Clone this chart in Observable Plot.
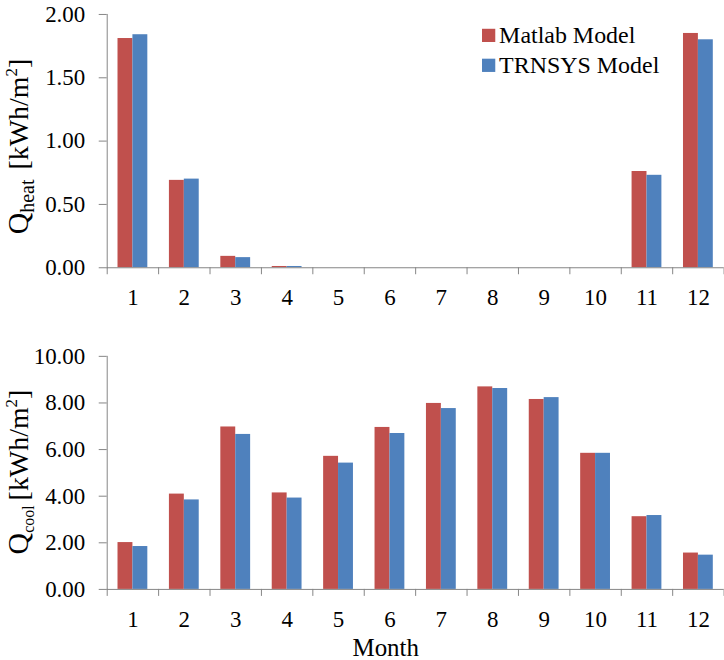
<!DOCTYPE html>
<html>
<head>
<meta charset="utf-8">
<script src="https://cdn.jsdelivr.net/npm/d3@7"></script>
<script src="https://cdn.jsdelivr.net/npm/@observablehq/plot@0.6"></script>
<style>
  html, body { margin: 0; padding: 0; background: #fff; overflow: hidden; width: 724px; height: 660px; }
  #heat, #cool { position: absolute; left: 0; }
  #heat { top: 0; }
  #cool { top: 305px; }
  svg text { font-family: "Liberation Serif", "Times New Roman", serif; }
</style>
</head>
<body>
<div id="heat"></div>
<div id="cool"></div>
<script>
// Monthly heating and cooling demand, two simulation models
const months = [1, 2, 3, 4, 5, 6, 7, 8, 9, 10, 11, 12];
const series = ["Matlab Model", "TRNSYS Model"];
const colors = ["#C0504D", "#4F81BD"];

const heatMatlab = [1.81, 0.69, 0.09, 0.01, 0, 0, 0, 0, 0, 0, 0.76, 1.85];
const heatTrnsys = [1.84, 0.70, 0.08, 0.01, 0, 0, 0, 0, 0, 0, 0.73, 1.80];

const coolMatlab = [2.01, 4.09, 6.97, 4.14, 5.71, 6.95, 7.98, 8.69, 8.15, 5.84, 3.12, 1.56];
const coolTrnsys = [1.84, 3.84, 6.65, 3.92, 5.42, 6.69, 7.76, 8.62, 8.23, 5.84, 3.17, 1.47];

const heatTicks = [0, 0.5, 1, 1.5, 2];
const coolTicks = [0, 2, 4, 6, 8, 10];

const FONT = "Liberation Serif";
const AXIS_GREY = "#868686";
const HALF = 0.29; // width of each bar in month units

function table(a, b) {
  return months.flatMap((m, i) => [
    {month: m, series: series[0], value: a[i]},
    {month: m, series: series[1], value: b[i]}
  ]);
}

const boundaries = months.map(m => m - 0.5).concat(months[months.length - 1] + 0.5);

function chart({data, yMax, ticks, height, marginTop, marginBottom, extra = []}) {
  return Plot.plot({
    width: 726,
    height,
    marginLeft: 107,
    marginRight: 0.4,
    marginTop,
    marginBottom,
    style: {fontFamily: FONT, fontSize: "23px", color: "#000", background: "transparent"},
    x: {domain: [0.5, 12.5]},
    y: {domain: [0, yMax]},
    color: {domain: series, range: colors},
    marks: [
      Plot.rectY(data, {
        x1: d => d.series === series[0] ? d.month - HALF : d.month,
        x2: d => d.series === series[0] ? d.month : d.month + HALF,
        y: "value",
        fill: "series"
      }),
      Plot.frame({anchor: "left", stroke: AXIS_GREY}),
      Plot.ruleY([0], {stroke: AXIS_GREY}),
      Plot.axisY(ticks, {
        tickSize: 8, tickPadding: 14, stroke: AXIS_GREY, fill: "#000",
        fontFamily: FONT, fontVariant: "normal",
        tickFormat: d3.format(".2f"), label: null
      }),
      Plot.axisX(boundaries, {
        tickSize: 7, stroke: AXIS_GREY, tickFormat: () => "", label: null
      }),
      Plot.axisX(months, {
        tickSize: 0, tickPadding: 21, fill: "#000",
        fontFamily: FONT, fontVariant: "normal",
        tickFormat: d => String(d), label: null
      }),
      ...extra
    ]
  });
}

// Legend inside the heating panel
const legendMarks = series.flatMap((name, i) => [
  Plot.dot([name], {
    frameAnchor: "top-left", dx: 382.5, dy: 21 + i * 30,
    symbol: "square", r: 7.5, fill: colors[i], stroke: "none"
  }),
  Plot.text([name], {
    frameAnchor: "top-left", lineAnchor: "middle", dx: 393, dy: 20.6 + i * 30,
    text: d => d, textAnchor: "start", fontSize: 24, fill: "#000"
  })
]);

const heatPlot = chart({
  data: table(heatMatlab, heatTrnsys),
  yMax: 2, ticks: heatTicks,
  height: 310, marginTop: 14, marginBottom: 42,
  extra: legendMarks
});

const coolPlot = chart({
  data: table(coolMatlab, coolTrnsys),
  yMax: 10, ticks: coolTicks,
  height: 355, marginTop: 51, marginBottom: 70.3,
  extra: [
    Plot.text(["Month"], {
      frameAnchor: "bottom", lineAnchor: "middle", dx: -30, dy: 58.3,
      text: d => d, fontSize: 25, fill: "#000"
    })
  ]
});

// Rotated y-axis title with subscript and superscript
function yTitle(svg, sub, subSize, cy, gap) {
  const t = d3.select(svg).append("text")
    .attr("transform", `translate(28,${cy}) rotate(-90)`)
    .attr("text-anchor", "middle")
    .attr("font-family", FONT)
    .attr("fill", "#000");
  t.append("tspan").attr("font-size", 30).text("Q");
  t.append("tspan").attr("font-size", subSize).attr("dy", 6).text(sub);
  t.append("tspan").attr("font-size", 28).attr("dy", -6).attr("dx", gap).text("[kWh/m");
  t.append("tspan").attr("font-size", 17).attr("dy", -11).text("2");
  t.append("tspan").attr("font-size", 28).attr("dy", 11).text("]");
}

yTitle(heatPlot, "heat", 20, 147, 10);
yTitle(coolPlot, "cool", 16, 167.5, 5);

document.getElementById("heat").appendChild(heatPlot);
document.getElementById("cool").appendChild(coolPlot);
</script>
</body>
</html>
